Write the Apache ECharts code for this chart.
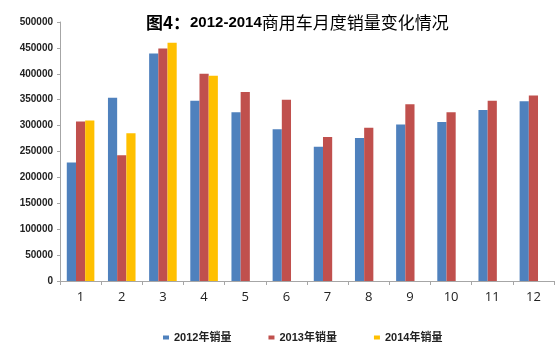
<!DOCTYPE html>
<html>
<head>
<meta charset="utf-8">
<script src="https://cdn.jsdelivr.net/npm/echarts@6/dist/echarts.min.js"></script>
<style>
html,body{margin:0;padding:0;background:#fff;}
#chart{width:555px;height:355px;}
</style>
</head>
<body>
<div id="chart"></div>
<script>
var months = ['1','2','3','4','5','6','7','8','9','10','11','12'];
var sales2012 = [229000, 354000, 439000, 348000, 326000, 293000, 259000, 276000, 302000, 307000, 330000, 347000];
var sales2013 = [308000, 243000, 449000, 400000, 365000, 350000, 278000, 296000, 341000, 326000, 348000, 358000];
var sales2014 = [310000, 285000, 460000, 396000, null, null, null, null, null, null, null, null];
var seriesNames = ['2012年销量', '2013年销量', '2014年销量'];
var colors = ['#4F81BD', '#C0504D', '#FFC000'];
var titlePrefix = '图4：';
var titleYears = '2012-2014';
var titleRest = '商用车月度销量变化情况';

var chart = echarts.init(document.getElementById('chart'), null, {renderer: 'canvas'});
var dataSets = [sales2012, sales2013, sales2014];
var series = dataSets.map(function (d, i) {
  return {
    name: seriesNames[i],
    type: 'bar',
    data: d,
    barGap: '0%',
    barCategoryGap: '33%',
    itemStyle: {color: colors[i]},
    animation: false
  };
});

chart.setOption({
  animation: false,
  color: colors,
  title: {
    text: '{c|' + titlePrefix + '}{n|' + titleYears + '}{r|' + titleRest + '}',
    left: 141,
    top: 7,
    textStyle: {
      rich: {
        c: {
          fontFamily: '"Noto Sans CJK SC", sans-serif',
          fontSize: 17,
          fontWeight: 'bold',
          color: '#000',
          lineHeight: 22
        },
        n: {
          fontFamily: '"Liberation Sans", sans-serif',
          fontSize: 15,
          fontWeight: 'bold',
          color: '#000',
          lineHeight: 22
        },
        r: {
          fontFamily: '"Noto Sans CJK SC", sans-serif',
          fontSize: 17,
          fontWeight: 'normal',
          color: '#000',
          lineHeight: 22
        }
      }
    }
  },
  legend: {
    data: seriesNames,
    left: 158,
    top: 327,
    icon: 'rect',
    itemWidth: 6,
    itemHeight: 4,
    itemGap: 37,
    textStyle: {
      fontFamily: '"Liberation Sans", "Noto Sans CJK SC", sans-serif',
      fontSize: 11,
      fontWeight: 'bold',
      color: '#222'
    }
  },
  grid: {
    left: 60,
    right: 1,
    top: 22,
    bottom: 74,
    containLabel: false
  },
  xAxis: {
    type: 'category',
    data: months,
    boundaryGap: true,
    axisLine: {show: true, lineStyle: {color: '#A6A6A6', width: 1}},
    axisTick: {show: true, length: 4, alignWithLabel: false, lineStyle: {color: '#A6A6A6'}},
    axisLabel: {
      margin: 10,
      fontFamily: '"Open Sans", "Liberation Sans", sans-serif',
      fontSize: 13,
      color: '#222'
    },
    splitLine: {show: false}
  },
  yAxis: {
    type: 'value',
    min: 0,
    max: 500000,
    interval: 50000,
    axisLine: {show: true, lineStyle: {color: '#A6A6A6', width: 1}},
    axisTick: {show: true, length: 3, lineStyle: {color: '#A6A6A6'}},
    axisLabel: {
      margin: 7,
      formatter: function (v) { return String(v); },
      fontFamily: '"Liberation Sans", sans-serif',
      fontSize: 10,
      fontWeight: 'bold',
      color: '#222'
    },
    splitLine: {show: false}
  },
  series: series
});
</script>
</body>
</html>
